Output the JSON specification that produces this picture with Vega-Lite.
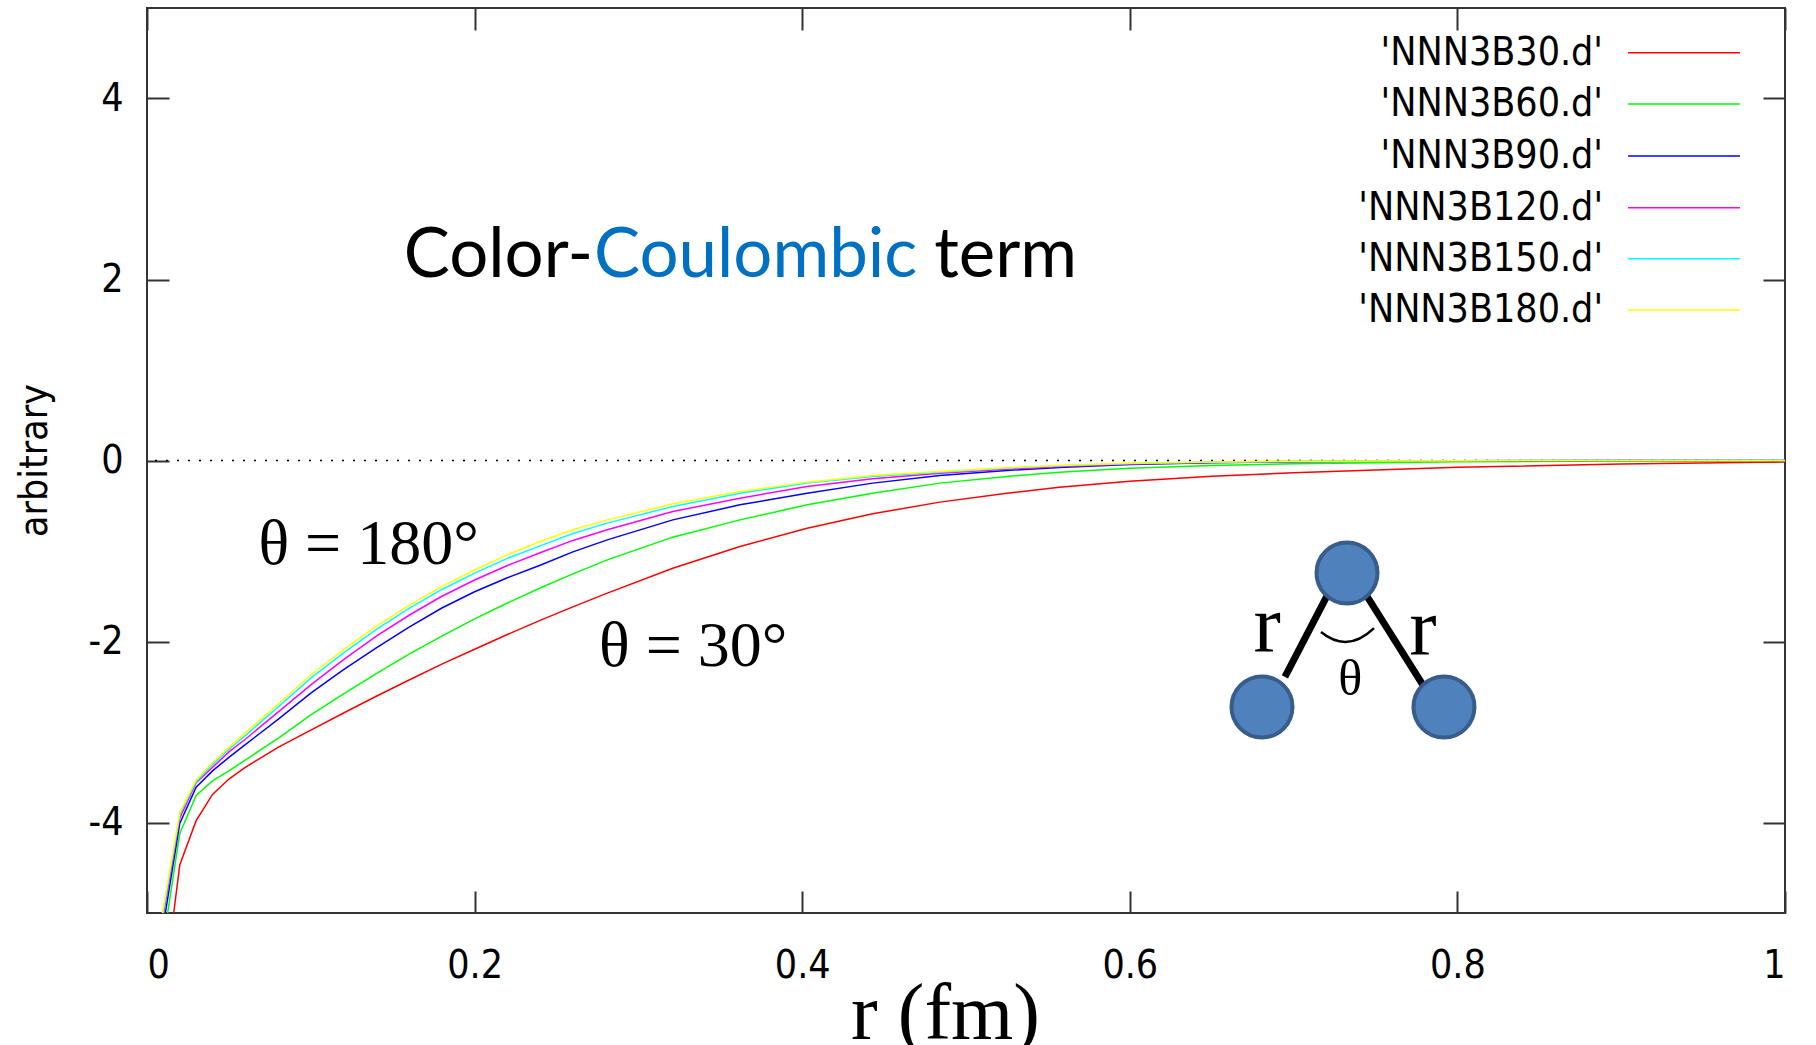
{
  "$schema": "https://vega.github.io/schema/vega-lite/v6.json",
  "width": 1638,
  "height": 905,
  "autosize": {"type": "none"},
  "padding": {"left": 147, "top": 8, "right": 31, "bottom": 132},
  "background": "white",
  "data": {"values": [{}]},
  "config": {
    "view": {"stroke": "#333333", "strokeWidth": 2},
    "font": "DejaVu Sans Condensed, Liberation Sans, sans-serif",
    "axis": {
      "domain": false,
      "grid": false,
      "tickSize": -22,
      "tickWidth": 2,
      "tickColor": "#333333",
      "labelFont": "DejaVu Sans Condensed, Liberation Sans, sans-serif",
      "labelFontSize": 39,
      "labelColor": "black",
      "titleColor": "black",
      "titleFontWeight": "normal"
    }
  },
  "datasets": {
    "curves": [
      {"series": "'NNN3B30.d'", "r": 0.0163, "v": -5.0},
      {"series": "'NNN3B30.d'", "r": 0.02, "v": -4.47},
      {"series": "'NNN3B30.d'", "r": 0.03, "v": -3.98},
      {"series": "'NNN3B30.d'", "r": 0.04, "v": -3.69},
      {"series": "'NNN3B30.d'", "r": 0.05, "v": -3.52},
      {"series": "'NNN3B30.d'", "r": 0.06, "v": -3.39},
      {"series": "'NNN3B30.d'", "r": 0.07, "v": -3.28},
      {"series": "'NNN3B30.d'", "r": 0.08, "v": -3.17},
      {"series": "'NNN3B30.d'", "r": 0.10, "v": -2.98},
      {"series": "'NNN3B30.d'", "r": 0.12, "v": -2.79},
      {"series": "'NNN3B30.d'", "r": 0.14, "v": -2.605},
      {"series": "'NNN3B30.d'", "r": 0.16, "v": -2.425},
      {"series": "'NNN3B30.d'", "r": 0.18, "v": -2.25},
      {"series": "'NNN3B30.d'", "r": 0.20, "v": -2.085},
      {"series": "'NNN3B30.d'", "r": 0.22, "v": -1.923},
      {"series": "'NNN3B30.d'", "r": 0.24, "v": -1.767},
      {"series": "'NNN3B30.d'", "r": 0.26, "v": -1.617},
      {"series": "'NNN3B30.d'", "r": 0.281, "v": -1.466},
      {"series": "'NNN3B30.d'", "r": 0.321, "v": -1.190},
      {"series": "'NNN3B30.d'", "r": 0.362, "v": -0.950},
      {"series": "'NNN3B30.d'", "r": 0.403, "v": -0.748},
      {"series": "'NNN3B30.d'", "r": 0.443, "v": -0.589},
      {"series": "'NNN3B30.d'", "r": 0.484, "v": -0.460},
      {"series": "'NNN3B30.d'", "r": 0.525, "v": -0.361},
      {"series": "'NNN3B30.d'", "r": 0.557, "v": -0.295},
      {"series": "'NNN3B30.d'", "r": 0.60, "v": -0.23},
      {"series": "'NNN3B30.d'", "r": 0.65, "v": -0.175},
      {"series": "'NNN3B30.d'", "r": 0.70, "v": -0.135},
      {"series": "'NNN3B30.d'", "r": 0.80, "v": -0.075},
      {"series": "'NNN3B30.d'", "r": 0.90, "v": -0.038},
      {"series": "'NNN3B30.d'", "r": 1.00, "v": -0.015},

      {"series": "'NNN3B60.d'", "r": 0.0126, "v": -5.0},
      {"series": "'NNN3B60.d'", "r": 0.02, "v": -4.12},
      {"series": "'NNN3B60.d'", "r": 0.03, "v": -3.70},
      {"series": "'NNN3B60.d'", "r": 0.04, "v": -3.54},
      {"series": "'NNN3B60.d'", "r": 0.05, "v": -3.43},
      {"series": "'NNN3B60.d'", "r": 0.06, "v": -3.31},
      {"series": "'NNN3B60.d'", "r": 0.07, "v": -3.19},
      {"series": "'NNN3B60.d'", "r": 0.08, "v": -3.07},
      {"series": "'NNN3B60.d'", "r": 0.10, "v": -2.81},
      {"series": "'NNN3B60.d'", "r": 0.12, "v": -2.58},
      {"series": "'NNN3B60.d'", "r": 0.14, "v": -2.355},
      {"series": "'NNN3B60.d'", "r": 0.16, "v": -2.14},
      {"series": "'NNN3B60.d'", "r": 0.18, "v": -1.94},
      {"series": "'NNN3B60.d'", "r": 0.20, "v": -1.75},
      {"series": "'NNN3B60.d'", "r": 0.22, "v": -1.575},
      {"series": "'NNN3B60.d'", "r": 0.24, "v": -1.409},
      {"series": "'NNN3B60.d'", "r": 0.26, "v": -1.253},
      {"series": "'NNN3B60.d'", "r": 0.281, "v": -1.098},
      {"series": "'NNN3B60.d'", "r": 0.321, "v": -0.847},
      {"series": "'NNN3B60.d'", "r": 0.362, "v": -0.656},
      {"series": "'NNN3B60.d'", "r": 0.403, "v": -0.490},
      {"series": "'NNN3B60.d'", "r": 0.443, "v": -0.361},
      {"series": "'NNN3B60.d'", "r": 0.484, "v": -0.250},
      {"series": "'NNN3B60.d'", "r": 0.525, "v": -0.177},
      {"series": "'NNN3B60.d'", "r": 0.557, "v": -0.129},
      {"series": "'NNN3B60.d'", "r": 0.60, "v": -0.085},
      {"series": "'NNN3B60.d'", "r": 0.65, "v": -0.055},
      {"series": "'NNN3B60.d'", "r": 0.70, "v": -0.035},
      {"series": "'NNN3B60.d'", "r": 0.80, "v": -0.015},
      {"series": "'NNN3B60.d'", "r": 0.90, "v": -0.006},
      {"series": "'NNN3B60.d'", "r": 1.00, "v": -0.002},

      {"series": "'NNN3B90.d'", "r": 0.0112, "v": -5.0},
      {"series": "'NNN3B90.d'", "r": 0.02, "v": -4.01},
      {"series": "'NNN3B90.d'", "r": 0.03, "v": -3.61},
      {"series": "'NNN3B90.d'", "r": 0.04, "v": -3.43},
      {"series": "'NNN3B90.d'", "r": 0.05, "v": -3.28},
      {"series": "'NNN3B90.d'", "r": 0.06, "v": -3.14},
      {"series": "'NNN3B90.d'", "r": 0.07, "v": -3.00},
      {"series": "'NNN3B90.d'", "r": 0.08, "v": -2.86},
      {"series": "'NNN3B90.d'", "r": 0.10, "v": -2.57},
      {"series": "'NNN3B90.d'", "r": 0.12, "v": -2.31},
      {"series": "'NNN3B90.d'", "r": 0.14, "v": -2.07},
      {"series": "'NNN3B90.d'", "r": 0.16, "v": -1.84},
      {"series": "'NNN3B90.d'", "r": 0.18, "v": -1.63},
      {"series": "'NNN3B90.d'", "r": 0.20, "v": -1.45},
      {"series": "'NNN3B90.d'", "r": 0.22, "v": -1.295},
      {"series": "'NNN3B90.d'", "r": 0.24, "v": -1.157},
      {"series": "'NNN3B90.d'", "r": 0.26, "v": -1.01},
      {"series": "'NNN3B90.d'", "r": 0.281, "v": -0.877},
      {"series": "'NNN3B90.d'", "r": 0.321, "v": -0.656},
      {"series": "'NNN3B90.d'", "r": 0.362, "v": -0.490},
      {"series": "'NNN3B90.d'", "r": 0.403, "v": -0.361},
      {"series": "'NNN3B90.d'", "r": 0.443, "v": -0.250},
      {"series": "'NNN3B90.d'", "r": 0.484, "v": -0.166},
      {"series": "'NNN3B90.d'", "r": 0.525, "v": -0.110},
      {"series": "'NNN3B90.d'", "r": 0.557, "v": -0.077},
      {"series": "'NNN3B90.d'", "r": 0.60, "v": -0.045},
      {"series": "'NNN3B90.d'", "r": 0.65, "v": -0.025},
      {"series": "'NNN3B90.d'", "r": 0.70, "v": -0.013},
      {"series": "'NNN3B90.d'", "r": 0.80, "v": -0.004},
      {"series": "'NNN3B90.d'", "r": 0.90, "v": -0.001},
      {"series": "'NNN3B90.d'", "r": 1.00, "v": 0.0},

      {"series": "'NNN3B120.d'", "r": 0.0102, "v": -5.0},
      {"series": "'NNN3B120.d'", "r": 0.02, "v": -3.95},
      {"series": "'NNN3B120.d'", "r": 0.03, "v": -3.56},
      {"series": "'NNN3B120.d'", "r": 0.04, "v": -3.39},
      {"series": "'NNN3B120.d'", "r": 0.05, "v": -3.22},
      {"series": "'NNN3B120.d'", "r": 0.06, "v": -3.08},
      {"series": "'NNN3B120.d'", "r": 0.07, "v": -2.93},
      {"series": "'NNN3B120.d'", "r": 0.08, "v": -2.78},
      {"series": "'NNN3B120.d'", "r": 0.10, "v": -2.48},
      {"series": "'NNN3B120.d'", "r": 0.12, "v": -2.20},
      {"series": "'NNN3B120.d'", "r": 0.14, "v": -1.94},
      {"series": "'NNN3B120.d'", "r": 0.16, "v": -1.71},
      {"series": "'NNN3B120.d'", "r": 0.18, "v": -1.50},
      {"series": "'NNN3B120.d'", "r": 0.20, "v": -1.32},
      {"series": "'NNN3B120.d'", "r": 0.22, "v": -1.16},
      {"series": "'NNN3B120.d'", "r": 0.24, "v": -1.02},
      {"series": "'NNN3B120.d'", "r": 0.26, "v": -0.883},
      {"series": "'NNN3B120.d'", "r": 0.281, "v": -0.766},
      {"series": "'NNN3B120.d'", "r": 0.321, "v": -0.564},
      {"series": "'NNN3B120.d'", "r": 0.362, "v": -0.416},
      {"series": "'NNN3B120.d'", "r": 0.403, "v": -0.287},
      {"series": "'NNN3B120.d'", "r": 0.443, "v": -0.203},
      {"series": "'NNN3B120.d'", "r": 0.484, "v": -0.140},
      {"series": "'NNN3B120.d'", "r": 0.525, "v": -0.096},
      {"series": "'NNN3B120.d'", "r": 0.557, "v": -0.066},
      {"series": "'NNN3B120.d'", "r": 0.60, "v": -0.038},
      {"series": "'NNN3B120.d'", "r": 0.65, "v": -0.020},
      {"series": "'NNN3B120.d'", "r": 0.70, "v": -0.010},
      {"series": "'NNN3B120.d'", "r": 0.80, "v": -0.002},
      {"series": "'NNN3B120.d'", "r": 0.90, "v": 0.0},
      {"series": "'NNN3B120.d'", "r": 1.00, "v": 0.0},

      {"series": "'NNN3B150.d'", "r": 0.0098, "v": -5.0},
      {"series": "'NNN3B150.d'", "r": 0.02, "v": -3.91},
      {"series": "'NNN3B150.d'", "r": 0.03, "v": -3.55},
      {"series": "'NNN3B150.d'", "r": 0.04, "v": -3.36},
      {"series": "'NNN3B150.d'", "r": 0.05, "v": -3.19},
      {"series": "'NNN3B150.d'", "r": 0.06, "v": -3.04},
      {"series": "'NNN3B150.d'", "r": 0.07, "v": -2.88},
      {"series": "'NNN3B150.d'", "r": 0.08, "v": -2.725},
      {"series": "'NNN3B150.d'", "r": 0.10, "v": -2.405},
      {"series": "'NNN3B150.d'", "r": 0.12, "v": -2.125},
      {"series": "'NNN3B150.d'", "r": 0.14, "v": -1.865},
      {"series": "'NNN3B150.d'", "r": 0.16, "v": -1.635},
      {"series": "'NNN3B150.d'", "r": 0.18, "v": -1.425},
      {"series": "'NNN3B150.d'", "r": 0.20, "v": -1.245},
      {"series": "'NNN3B150.d'", "r": 0.22, "v": -1.082},
      {"series": "'NNN3B150.d'", "r": 0.24, "v": -0.943},
      {"series": "'NNN3B150.d'", "r": 0.26, "v": -0.807},
      {"series": "'NNN3B150.d'", "r": 0.281, "v": -0.692},
      {"series": "'NNN3B150.d'", "r": 0.321, "v": -0.508},
      {"series": "'NNN3B150.d'", "r": 0.362, "v": -0.361},
      {"series": "'NNN3B150.d'", "r": 0.403, "v": -0.250},
      {"series": "'NNN3B150.d'", "r": 0.443, "v": -0.177},
      {"series": "'NNN3B150.d'", "r": 0.484, "v": -0.129},
      {"series": "'NNN3B150.d'", "r": 0.525, "v": -0.085},
      {"series": "'NNN3B150.d'", "r": 0.557, "v": -0.059},
      {"series": "'NNN3B150.d'", "r": 0.60, "v": -0.034},
      {"series": "'NNN3B150.d'", "r": 0.65, "v": -0.018},
      {"series": "'NNN3B150.d'", "r": 0.70, "v": -0.009},
      {"series": "'NNN3B150.d'", "r": 0.80, "v": -0.002},
      {"series": "'NNN3B150.d'", "r": 0.90, "v": 0.0},
      {"series": "'NNN3B150.d'", "r": 1.00, "v": 0.0},

      {"series": "'NNN3B180.d'", "r": 0.0094, "v": -5.0},
      {"series": "'NNN3B180.d'", "r": 0.02, "v": -3.89},
      {"series": "'NNN3B180.d'", "r": 0.03, "v": -3.53},
      {"series": "'NNN3B180.d'", "r": 0.04, "v": -3.34},
      {"series": "'NNN3B180.d'", "r": 0.05, "v": -3.17},
      {"series": "'NNN3B180.d'", "r": 0.06, "v": -3.01},
      {"series": "'NNN3B180.d'", "r": 0.07, "v": -2.85},
      {"series": "'NNN3B180.d'", "r": 0.08, "v": -2.69},
      {"series": "'NNN3B180.d'", "r": 0.10, "v": -2.37},
      {"series": "'NNN3B180.d'", "r": 0.12, "v": -2.09},
      {"series": "'NNN3B180.d'", "r": 0.14, "v": -1.83},
      {"series": "'NNN3B180.d'", "r": 0.16, "v": -1.60},
      {"series": "'NNN3B180.d'", "r": 0.18, "v": -1.39},
      {"series": "'NNN3B180.d'", "r": 0.20, "v": -1.21},
      {"series": "'NNN3B180.d'", "r": 0.22, "v": -1.04},
      {"series": "'NNN3B180.d'", "r": 0.24, "v": -0.895},
      {"series": "'NNN3B180.d'", "r": 0.26, "v": -0.765},
      {"series": "'NNN3B180.d'", "r": 0.281, "v": -0.656},
      {"series": "'NNN3B180.d'", "r": 0.321, "v": -0.479},
      {"series": "'NNN3B180.d'", "r": 0.362, "v": -0.343},
      {"series": "'NNN3B180.d'", "r": 0.403, "v": -0.239},
      {"series": "'NNN3B180.d'", "r": 0.443, "v": -0.166},
      {"series": "'NNN3B180.d'", "r": 0.484, "v": -0.122},
      {"series": "'NNN3B180.d'", "r": 0.525, "v": -0.081},
      {"series": "'NNN3B180.d'", "r": 0.557, "v": -0.055},
      {"series": "'NNN3B180.d'", "r": 0.60, "v": -0.031},
      {"series": "'NNN3B180.d'", "r": 0.65, "v": -0.016},
      {"series": "'NNN3B180.d'", "r": 0.70, "v": -0.008},
      {"series": "'NNN3B180.d'", "r": 0.80, "v": -0.002},
      {"series": "'NNN3B180.d'", "r": 0.90, "v": 0.0},
      {"series": "'NNN3B180.d'", "r": 1.00, "v": 0.0}
    ]
  },
  "resolve": {"axis": {"x": "independent", "y": "independent"}},
  "layer": [
    {
      "mark": {"type": "rule", "color": "black", "strokeWidth": 1.5, "strokeDash": [2, 9]},
      "encoding": {
        "y": {"datum": 0, "type": "quantitative", "scale": {"domain": [-5, 5], "nice": false, "zero": false}, "axis": null}
      }
    },
    {
      "data": {"name": "curves"},
      "mark": {"type": "line", "strokeWidth": 1.5, "clip": true},
      "encoding": {
        "x": {
          "field": "r", "type": "quantitative",
          "scale": {"domain": [0, 1], "nice": false, "zero": false},
          "axis": {
            "orient": "bottom",
            "values": [0, 0.2, 0.4, 0.6, 0.8, 1],
            "format": "~g",
            "labelPadding": 55,
            "labelDx": 3,
            "title": "r (fm)",
            "titleFont": "Liberation Serif, Times New Roman, serif",
            "titleFontSize": 80,
            "titleX": 798,
            "titleY": 125,
            "titleAlign": "center",
            "titleBaseline": "alphabetic"
          }
        },
        "y": {
          "field": "v", "type": "quantitative",
          "scale": {"domain": [-5, 5], "nice": false, "zero": false},
          "axis": {
            "orient": "left",
            "values": [-4, -2, 0, 2, 4],
            "labelExpr": "replace(datum.label, '\u2212', '-')",
            "labelPadding": 46,
            "title": "arbitrary",
            "titleFont": "DejaVu Sans Condensed, Liberation Sans, sans-serif",
            "titleFontSize": 39,
            "titleX": -113,
            "titleY": 452,
            "titleAngle": -90,
            "titleAlign": "center",
            "titleBaseline": "middle"
          }
        },
        "color": {
          "field": "series", "type": "nominal",
          "scale": {
            "domain": ["'NNN3B30.d'", "'NNN3B60.d'", "'NNN3B90.d'", "'NNN3B120.d'", "'NNN3B150.d'", "'NNN3B180.d'"],
            "range": ["#ff0000", "#00ff00", "#0000ff", "#ff00ff", "#00ffff", "#ffff00"]
          },
          "legend": null
        },
        "order": {"field": "r", "type": "quantitative"}
      }
    },
    {
      "mark": {"type": "rule", "color": "black", "strokeWidth": 7},
      "encoding": {
        "x": {"datum": 0.7204, "type": "quantitative", "scale": {"domain": [0, 1], "nice": false, "zero": false}, "axis": null},
        "y": {"datum": -1.497, "type": "quantitative", "scale": {"domain": [-5, 5], "nice": false, "zero": false}, "axis": null},
        "x2": {"datum": 0.6947},
        "y2": {"datum": -2.392}
      }
    },
    {
      "mark": {"type": "rule", "color": "black", "strokeWidth": 7},
      "encoding": {
        "x": {"datum": 0.7424, "type": "quantitative", "scale": {"domain": [0, 1], "nice": false, "zero": false}, "axis": null},
        "y": {"datum": -1.431, "type": "quantitative", "scale": {"domain": [-5, 5], "nice": false, "zero": false}, "axis": null},
        "x2": {"datum": 0.7790},
        "y2": {"datum": -2.481}
      }
    },
    {
      "mark": {"type": "point", "shape": "circle", "filled": true, "size": 3721, "fill": "#4F81BD", "stroke": "#385D8A", "strokeWidth": 4, "opacity": 1},
      "encoding": {
        "x": {
          "datum": 0.7326, "type": "quantitative",
          "scale": {"domain": [0, 1], "nice": false, "zero": false},
          "axis": {"orient": "top", "values": [0, 0.2, 0.4, 0.6, 0.8, 1], "labels": false, "title": null}
        },
        "y": {
          "datum": -1.243, "type": "quantitative",
          "scale": {"domain": [-5, 5], "nice": false, "zero": false},
          "axis": {"orient": "right", "values": [-4, -2, 0, 2, 4], "labels": false, "title": null}
        }
      }
    },
    {
      "mark": {"type": "point", "shape": "circle", "filled": true, "size": 3721, "fill": "#4F81BD", "stroke": "#385D8A", "strokeWidth": 4, "opacity": 1},
      "encoding": {
        "x": {"datum": 0.6807, "type": "quantitative", "scale": {"domain": [0, 1], "nice": false, "zero": false}, "axis": null},
        "y": {"datum": -2.724, "type": "quantitative", "scale": {"domain": [-5, 5], "nice": false, "zero": false}, "axis": null}
      }
    },
    {
      "mark": {"type": "point", "shape": "circle", "filled": true, "size": 3721, "fill": "#4F81BD", "stroke": "#385D8A", "strokeWidth": 4, "opacity": 1},
      "encoding": {
        "x": {"datum": 0.7918, "type": "quantitative", "scale": {"domain": [0, 1], "nice": false, "zero": false}, "axis": null},
        "y": {"datum": -2.724, "type": "quantitative", "scale": {"domain": [-5, 5], "nice": false, "zero": false}, "axis": null}
      }
    },
    {
      "mark": {"type": "point", "shape": "M-1,-0.11Q0,0.705,1,-0.26", "filled": false, "size": 2809, "stroke": "black", "strokeWidth": 2.5, "opacity": 1},
      "encoding": {
        "x": {"datum": 0.7329, "type": "quantitative", "scale": {"domain": [0, 1], "nice": false, "zero": false}, "axis": null},
        "y": {"datum": -1.928, "type": "quantitative", "scale": {"domain": [-5, 5], "nice": false, "zero": false}, "axis": null}
      }
    },
    {
      "mark": {"type": "text", "text": "r", "font": "Liberation Serif, Times New Roman, serif", "fontSize": 82, "align": "center", "baseline": "alphabetic", "color": "black"},
      "encoding": {
        "x": {"datum": 0.6838, "type": "quantitative", "scale": {"domain": [0, 1], "nice": false, "zero": false}, "axis": null},
        "y": {"datum": -2.116, "type": "quantitative", "scale": {"domain": [-5, 5], "nice": false, "zero": false}, "axis": null}
      }
    },
    {
      "mark": {"type": "text", "text": "r", "font": "Liberation Serif, Times New Roman, serif", "fontSize": 82, "align": "center", "baseline": "alphabetic", "color": "black"},
      "encoding": {
        "x": {"datum": 0.779, "type": "quantitative", "scale": {"domain": [0, 1], "nice": false, "zero": false}, "axis": null},
        "y": {"datum": -2.149, "type": "quantitative", "scale": {"domain": [-5, 5], "nice": false, "zero": false}, "axis": null}
      }
    },
    {
      "mark": {"type": "text", "text": "θ", "font": "Liberation Serif, Times New Roman, serif", "fontSize": 50, "align": "center", "baseline": "alphabetic", "color": "black"},
      "encoding": {
        "x": {"datum": 0.7346, "type": "quantitative", "scale": {"domain": [0, 1], "nice": false, "zero": false}, "axis": null},
        "y": {"datum": -2.591, "type": "quantitative", "scale": {"domain": [-5, 5], "nice": false, "zero": false}, "axis": null}
      }
    },
    {
      "mark": {"type": "text", "text": "θ = 180°", "font": "Liberation Serif, Times New Roman, serif", "fontSize": 64, "align": "left", "baseline": "alphabetic", "color": "black"},
      "encoding": {
        "x": {"datum": 0.068, "type": "quantitative", "scale": {"domain": [0, 1], "nice": false, "zero": false}, "axis": null},
        "y": {"datum": -1.144, "type": "quantitative", "scale": {"domain": [-5, 5], "nice": false, "zero": false}, "axis": null}
      }
    },
    {
      "mark": {"type": "text", "text": "θ = 30°", "font": "Liberation Serif, Times New Roman, serif", "fontSize": 64, "align": "left", "baseline": "alphabetic", "color": "black"},
      "encoding": {
        "x": {"datum": 0.276, "type": "quantitative", "scale": {"domain": [0, 1], "nice": false, "zero": false}, "axis": null},
        "y": {"datum": -2.27, "type": "quantitative", "scale": {"domain": [-5, 5], "nice": false, "zero": false}, "axis": null}
      }
    },
    {
      "mark": {"type": "text", "text": "Color-", "font": "Lato, Open Sans, sans-serif", "fontSize": 69, "align": "right", "baseline": "alphabetic", "color": "black"},
      "encoding": {
        "x": {"datum": 0.2723, "type": "quantitative", "scale": {"domain": [0, 1], "nice": false, "zero": false}, "axis": null},
        "y": {"datum": 2.03, "type": "quantitative", "scale": {"domain": [-5, 5], "nice": false, "zero": false}, "axis": null}
      }
    },
    {
      "mark": {"type": "text", "text": "Coulombic", "font": "Lato, Open Sans, sans-serif", "fontSize": 69, "align": "left", "baseline": "alphabetic", "color": "#0070C0"},
      "encoding": {
        "x": {"datum": 0.2729, "type": "quantitative", "scale": {"domain": [0, 1], "nice": false, "zero": false}, "axis": null},
        "y": {"datum": 2.03, "type": "quantitative", "scale": {"domain": [-5, 5], "nice": false, "zero": false}, "axis": null}
      }
    },
    {
      "mark": {"type": "text", "text": "term", "font": "Lato, Open Sans, sans-serif", "fontSize": 69, "align": "right", "baseline": "alphabetic", "color": "black"},
      "encoding": {
        "x": {"datum": 0.5678, "type": "quantitative", "scale": {"domain": [0, 1], "nice": false, "zero": false}, "axis": null},
        "y": {"datum": 2.03, "type": "quantitative", "scale": {"domain": [-5, 5], "nice": false, "zero": false}, "axis": null}
      }
    },
    {"mark": {"type": "text", "text": "'NNN3B30.d'", "fontSize": 39, "align": "right", "baseline": "middle", "color": "black"},
     "encoding": {"x": {"datum": 0.8889, "type": "quantitative", "axis": null}, "y": {"datum": 4.506, "type": "quantitative", "axis": null}}},
    {"mark": {"type": "text", "text": "'NNN3B60.d'", "fontSize": 39, "align": "right", "baseline": "middle", "color": "black"},
     "encoding": {"x": {"datum": 0.8889, "type": "quantitative", "axis": null}, "y": {"datum": 3.939, "type": "quantitative", "axis": null}}},
    {"mark": {"type": "text", "text": "'NNN3B90.d'", "fontSize": 39, "align": "right", "baseline": "middle", "color": "black"},
     "encoding": {"x": {"datum": 0.8889, "type": "quantitative", "axis": null}, "y": {"datum": 3.365, "type": "quantitative", "axis": null}}},
    {"mark": {"type": "text", "text": "'NNN3B120.d'", "fontSize": 39, "align": "right", "baseline": "middle", "color": "black"},
     "encoding": {"x": {"datum": 0.8889, "type": "quantitative", "axis": null}, "y": {"datum": 2.793, "type": "quantitative", "axis": null}}},
    {"mark": {"type": "text", "text": "'NNN3B150.d'", "fontSize": 39, "align": "right", "baseline": "middle", "color": "black"},
     "encoding": {"x": {"datum": 0.8889, "type": "quantitative", "axis": null}, "y": {"datum": 2.230, "type": "quantitative", "axis": null}}},
    {"mark": {"type": "text", "text": "'NNN3B180.d'", "fontSize": 39, "align": "right", "baseline": "middle", "color": "black"},
     "encoding": {"x": {"datum": 0.8889, "type": "quantitative", "axis": null}, "y": {"datum": 1.663, "type": "quantitative", "axis": null}}},
    {"mark": {"type": "rule", "color": "#ff0000", "strokeWidth": 1.5},
     "encoding": {"x": {"datum": 0.9042, "type": "quantitative", "axis": null}, "x2": {"datum": 0.9725}, "y": {"datum": 4.506, "type": "quantitative", "axis": null}}},
    {"mark": {"type": "rule", "color": "#00ff00", "strokeWidth": 1.5},
     "encoding": {"x": {"datum": 0.9042, "type": "quantitative", "axis": null}, "x2": {"datum": 0.9725}, "y": {"datum": 3.939, "type": "quantitative", "axis": null}}},
    {"mark": {"type": "rule", "color": "#0000ff", "strokeWidth": 1.5},
     "encoding": {"x": {"datum": 0.9042, "type": "quantitative", "axis": null}, "x2": {"datum": 0.9725}, "y": {"datum": 3.365, "type": "quantitative", "axis": null}}},
    {"mark": {"type": "rule", "color": "#ff00ff", "strokeWidth": 1.5},
     "encoding": {"x": {"datum": 0.9042, "type": "quantitative", "axis": null}, "x2": {"datum": 0.9725}, "y": {"datum": 2.793, "type": "quantitative", "axis": null}}},
    {"mark": {"type": "rule", "color": "#00ffff", "strokeWidth": 1.5},
     "encoding": {"x": {"datum": 0.9042, "type": "quantitative", "axis": null}, "x2": {"datum": 0.9725}, "y": {"datum": 2.230, "type": "quantitative", "axis": null}}},
    {"mark": {"type": "rule", "color": "#ffff00", "strokeWidth": 1.5},
     "encoding": {"x": {"datum": 0.9042, "type": "quantitative", "axis": null}, "x2": {"datum": 0.9725}, "y": {"datum": 1.663, "type": "quantitative", "axis": null}}}
  ]
}
